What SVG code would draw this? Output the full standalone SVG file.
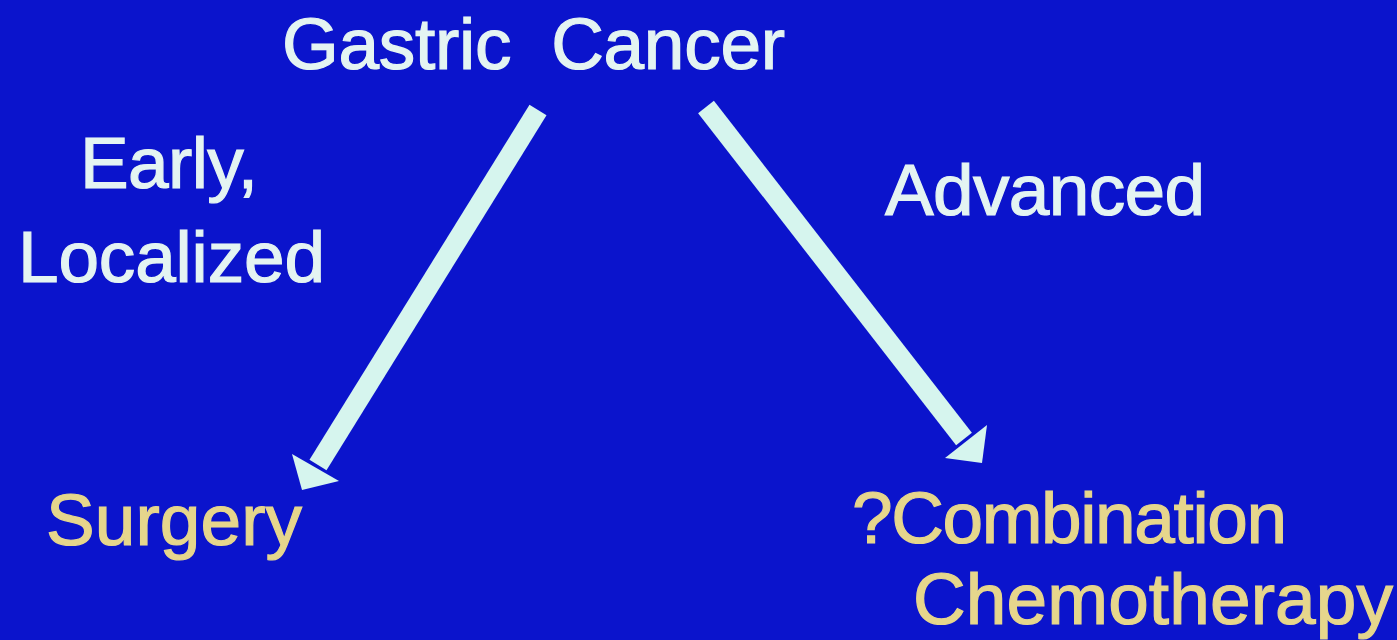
<svg xmlns="http://www.w3.org/2000/svg" width="1397" height="640" viewBox="0 0 1397 640">
<style>
.t{font-family:"Liberation Sans",Arial,sans-serif;font-size:73px;fill:#E4F4F2;stroke:#E4F4F2;stroke-width:1.2}
.y{font-family:"Liberation Sans",Arial,sans-serif;font-size:73px;fill:#E6D68C;stroke:#E6D68C;stroke-width:1.2}
.shaft{stroke:#D6F5EE;stroke-width:20;fill:none}
.head{fill:#D6F5EE}
</style>
<rect width="1397" height="640" fill="#0B14CC"/>
<g id="connectors">
<g id="arrow-left">
<line class="shaft" x1="538" y1="110" x2="318" y2="465"/>
<polygon class="head" points="302,490 292,454 339,481"/>
</g>
<g id="arrow-right">
<line class="shaft" x1="706" y1="107" x2="964" y2="439"/>
<polygon class="head" points="982,463 987,425 945,458"/>
</g>
</g>
<g id="node-gastric"><text class="t" x="282" y="69" xml:space="preserve" textLength="503">Gastric  Cancer</text></g>
<g id="label-early"><text class="t" x="80" y="188" textLength="178">Early,</text><text class="t" x="18" y="282" textLength="307">Localized</text></g>
<g id="label-advanced"><text class="t" x="885" y="215" textLength="320">Advanced</text></g>
<g id="node-surgery"><text class="y" x="46" y="545" textLength="256">Surgery</text></g>
<g id="node-chemo"><text class="y" x="852" y="543" textLength="435">?Combination</text><text class="y" x="913" y="624" textLength="480">Chemotherapy</text></g>
</svg>
